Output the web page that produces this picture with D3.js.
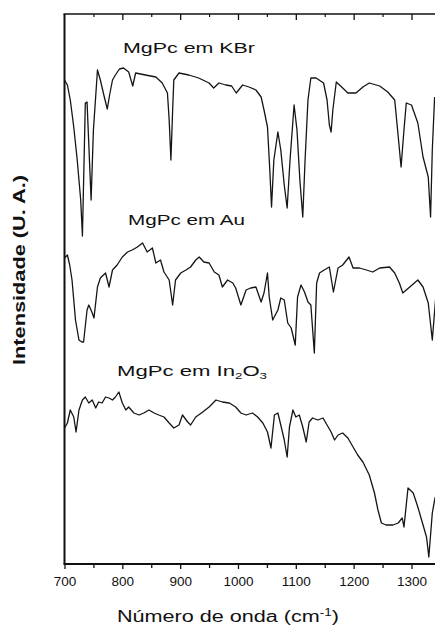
<!DOCTYPE html>
<html>
<head>
<meta charset="utf-8">
<script src="https://cdn.jsdelivr.net/npm/d3@7"></script>
<style>
  html, body { margin: 0; padding: 0; background: #fff; }
  svg { display: block; }
  text { font-family: "Liberation Sans", Arial, sans-serif; fill: #111; }
</style>
</head>
<body>
<svg id="chart" width="435" height="626"></svg>
<script>
// FTIR spectra of MgPc on three substrates (wavenumber in cm-1, intensity in arbitrary units, offset per trace)
const wnKBr = [700,705,710,716,722,728,731,736,739,746,750,757,762,768,774,778,783,788,795,802,811,818,823,840,858,869,878,881,884,887,889,898,915,932,950,958,967,979,989,997,1008,1019,1031,1040,1045,1051,1055,1058,1062,1069,1074,1080,1085,1090,1097,1102,1107,1112,1116,1121,1126,1135,1148,1154,1158,1161,1164,1170,1181,1190,1204,1216,1227,1245,1259,1271,1276,1282,1287,1291,1300,1311,1320,1329,1333,1336,1340];
const intKBr = [484,479,464,437,404,364,328,461,462,364,434,494,484,469,455,469,484,489,495,496,492,478,491,489,487,481,471,444,404,454,484,491,489,486,481,476,481,479,478,471,479,477,474,467,454,437,394,357,404,432,414,379,356,404,459,434,384,347,404,464,486,486,481,464,439,432,454,482,476,471,471,477,481,478,472,464,434,397,434,461,459,441,407,387,347,414,467];

const wnAu = [700,705,709,713,719,725,730,733,739,742,748,751,757,762,771,777,783,791,800,809,817,826,835,843,852,858,866,872,881,887,892,901,910,918,927,933,941,950,959,967,973,982,991,996,1005,1014,1022,1031,1040,1045,1051,1054,1060,1069,1074,1080,1086,1092,1099,1103,1109,1115,1121,1126,1132,1136,1141,1149,1158,1165,1173,1181,1192,1199,1210,1222,1233,1245,1262,1271,1279,1285,1297,1311,1320,1329,1336,1342];
const intAu = [306,309,299,284,244,224,222,222,254,259,251,246,277,286,291,277,294,299,307,312,314,317,321,312,316,301,304,292,284,259,284,291,294,297,304,307,302,301,292,289,277,284,281,276,259,274,276,277,262,271,291,267,244,254,266,264,241,236,219,267,279,272,262,259,211,281,291,294,297,272,296,299,307,296,296,294,292,296,297,291,281,271,277,284,277,261,224,267];

const wnIn2O3 = [700,705,710,716,720,725,731,736,742,748,754,759,765,771,777,783,788,794,800,806,811,820,829,837,846,855,863,872,881,889,898,904,913,918,927,939,950,962,973,985,996,1005,1014,1025,1034,1043,1051,1057,1063,1069,1074,1080,1085,1089,1095,1100,1106,1112,1118,1123,1129,1138,1147,1152,1161,1167,1173,1181,1190,1199,1207,1216,1227,1236,1242,1248,1256,1268,1277,1284,1287,1294,1303,1311,1320,1326,1330,1336,1341];
const intIn2O3 = [136,141,154,147,132,154,164,167,161,164,156,162,161,167,166,164,167,172,161,154,157,151,149,151,154,151,149,147,141,136,139,149,142,139,147,152,157,164,162,161,157,151,149,151,147,141,132,116,149,151,139,124,107,137,154,147,149,137,122,142,146,144,146,141,132,124,129,131,126,117,109,102,89,71,54,41,39,39,41,46,37,76,71,57,39,27,7,51,67];

const xTicks = [700, 800, 900, 1000, 1100, 1200, 1300];
const xMinorTicks = [750, 850, 950, 1050, 1150, 1250, 1350];

const svg = d3.select("#chart");

const plotLeft = 64.5, plotTop = 14, plotBottom = 564;
const x = d3.scaleLinear().domain([700, 1350]).range([plotLeft, plotLeft + 650 * 0.5783]);
const y = d3.scaleLinear().domain([0, 550]).range([plotBottom, plotTop]);

svg.append("defs").append("clipPath").attr("id", "plot")
  .append("rect").attr("x", plotLeft).attr("y", plotTop).attr("width", 400).attr("height", plotBottom - plotTop);

const line = d3.line().x(d => x(d[0])).y(d => y(d[1]));
const traces = [
  d3.zip(wnKBr, intKBr),
  d3.zip(wnAu, intAu),
  d3.zip(wnIn2O3, intIn2O3)
];
svg.append("g").attr("clip-path", "url(#plot)")
  .selectAll("path").data(traces).join("path")
  .attr("d", line)
  .attr("fill", "none")
  .attr("stroke", "#151515")
  .attr("stroke-width", 1.3)
  .attr("stroke-linejoin", "round");

// bottom axis: labelled ticks every 100, minor every 50, pointing outward
const xAxis = d3.axisBottom(x).tickValues(xTicks).tickSize(5).tickPadding(7).tickFormat(d3.format("d"));
const gx = svg.append("g").attr("transform", `translate(0,${plotBottom})`).call(xAxis);
gx.select(".domain").remove();
gx.selectAll(".tick line").attr("stroke", "#111").attr("stroke-width", 1.3);
gx.selectAll(".tick text").attr("font-size", 13.5).attr("fill", "#111")
  .style("font-family", "'Liberation Sans', Arial, sans-serif");
svg.append("g").attr("transform", `translate(0,${plotBottom})`)
  .call(d3.axisBottom(x).tickValues(xMinorTicks).tickSize(4).tickFormat(""))
  .call(g => g.select(".domain").remove())
  .selectAll(".tick line").attr("stroke", "#111").attr("stroke-width", 1.3);

// top axis: mirrored ticks pointing inward
svg.append("g").attr("transform", `translate(0,${plotTop})`)
  .call(d3.axisTop(x).tickValues(xTicks.slice(1)).tickSize(-6).tickFormat(""))
  .call(g => g.select(".domain").remove())
  .selectAll(".tick line").attr("stroke", "#111").attr("stroke-width", 1.3);
svg.append("g").attr("transform", `translate(0,${plotTop})`)
  .call(d3.axisTop(x).tickValues(xMinorTicks).tickSize(-3).tickFormat(""))
  .call(g => g.select(".domain").remove())
  .selectAll(".tick line").attr("stroke", "#111").attr("stroke-width", 1.2);

// frame
svg.append("line").attr("x1", plotLeft - 1).attr("x2", 435).attr("y1", plotBottom).attr("y2", plotBottom)
  .attr("stroke", "#111").attr("stroke-width", 2);
svg.append("line").attr("x1", plotLeft).attr("x2", plotLeft).attr("y1", plotTop).attr("y2", plotBottom)
  .attr("stroke", "#111").attr("stroke-width", 2);
svg.append("line").attr("x1", plotLeft - 1).attr("x2", 435).attr("y1", plotTop).attr("y2", plotTop)
  .attr("stroke", "#111").attr("stroke-width", 1.6);

// trace labels
svg.append("text").attr("x", 123).attr("y", 53).attr("font-size", 15)
  .attr("textLength", 132).attr("lengthAdjust", "spacingAndGlyphs")
  .text("MgPc em KBr");
svg.append("text").attr("x", 128).attr("y", 225).attr("font-size", 15)
  .attr("textLength", 117).attr("lengthAdjust", "spacingAndGlyphs")
  .text("MgPc em Au");
const t3 = svg.append("text").attr("x", 117).attr("y", 376).attr("font-size", 15);
t3.append("tspan").text("MgPc em In");
t3.append("tspan").attr("font-size", 9).attr("dy", 3).text("2");
t3.append("tspan").attr("dy", -3).text("O");
t3.append("tspan").attr("font-size", 9).attr("dy", 3).text("3");
t3.attr("textLength", 150).attr("lengthAdjust", "spacingAndGlyphs");

// axis titles
const xt = svg.append("text").attr("x", 228).attr("y", 622).attr("text-anchor", "middle")
  .attr("font-size", 16);
xt.append("tspan").text("Número de onda (cm");
xt.append("tspan").attr("font-size", 10).attr("dy", -6).text("-1");
xt.append("tspan").attr("dy", 6).text(")");
xt.attr("textLength", 222).attr("lengthAdjust", "spacingAndGlyphs");

svg.append("text").attr("transform", "translate(25,270) rotate(-90)")
  .attr("text-anchor", "middle").attr("font-size", 16).attr("font-weight", "bold")
  .attr("textLength", 190).attr("lengthAdjust", "spacingAndGlyphs")
  .text("Intensidade (U. A.)");
</script>
</body>
</html>
